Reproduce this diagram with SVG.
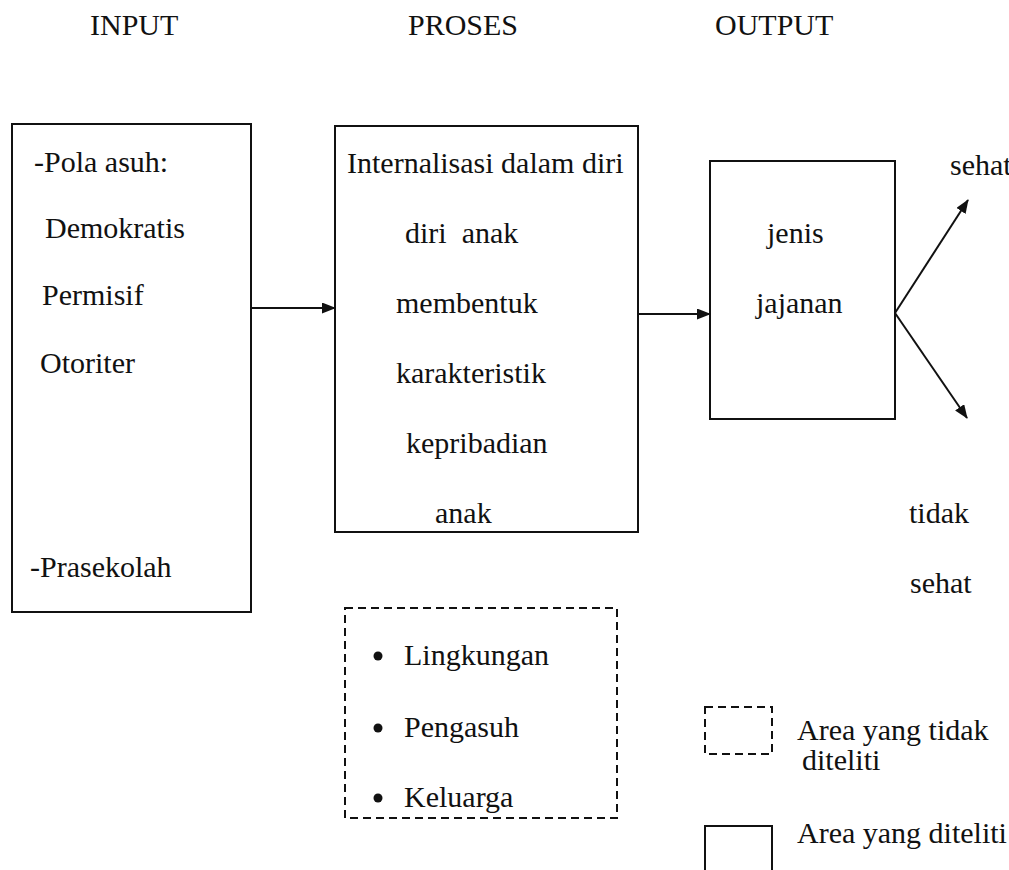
<svg xmlns="http://www.w3.org/2000/svg" width="1009" height="870" viewBox="0 0 1009 870">
<defs>
<style>
text{font-family:"Liberation Serif","Times New Roman",serif;font-size:30px;fill:#111}
.box{fill:none;stroke:#111;stroke-width:2}
.dash{fill:none;stroke:#111;stroke-width:2;stroke-dasharray:8,5}
.conn{stroke:#111;stroke-width:2;fill:none}
</style>
<marker id="ah" viewBox="0 0 14 11" refX="13" refY="5.5" markerWidth="14" markerHeight="11" markerUnits="userSpaceOnUse" orient="auto">
<path d="M0,0 L14,5.5 L0,11 Z" fill="#111"/>
</marker>
</defs>
<rect width="1009" height="870" fill="#fff"/>
<g id="headers">
<text x="90" y="35">INPUT</text>
<text x="408" y="35">PROSES</text>
<text x="715" y="35">OUTPUT</text>
</g>
<g id="input">
<rect class="box" x="12" y="124" width="239" height="488"/>
<text x="34" y="172">-Pola asuh:</text>
<text x="45" y="238">Demokratis</text>
<text x="42" y="305">Permisif</text>
<text x="40" y="373">Otoriter</text>
<text x="30" y="577">-Prasekolah</text>
</g>
<g id="proses">
<rect class="box" x="335" y="126" width="303" height="406"/>
<text x="347" y="173">Internalisasi dalam diri</text>
<text x="405" y="243" xml:space="preserve">diri  anak</text>
<text x="396" y="313">membentuk</text>
<text x="396" y="383">karakteristik</text>
<text x="406" y="453">kepribadian</text>
<text x="435" y="523">anak</text>
</g>
<g id="output">
<rect class="box" x="710" y="161" width="185" height="258"/>
<text x="767" y="243">jenis</text>
<text x="756" y="313">jajanan</text>
</g>
<g id="sehat">
<text x="950" y="175">sehat</text>
</g>
<g id="tidak-sehat">
<text x="909" y="523">tidak</text>
<text x="910" y="593">sehat</text>
</g>
<g id="faktor">
<rect class="dash" x="345" y="608" width="272" height="210"/>
<circle cx="378" cy="656" r="4.5" fill="#111"/>
<text x="404" y="665">Lingkungan</text>
<circle cx="378" cy="728" r="4.5" fill="#111"/>
<text x="404" y="737">Pengasuh</text>
<circle cx="378" cy="798" r="4.5" fill="#111"/>
<text x="404" y="807">Keluarga</text>
</g>
<g id="legend">
<rect class="dash" x="705" y="707" width="67" height="47"/>
<text x="797" y="740">Area yang tidak</text>
<text x="802" y="770">diteliti</text>
<rect class="box" x="705" y="826" width="67" height="60"/>
<text x="797" y="843">Area yang diteliti</text>
</g>
<g id="connectors">
<line class="conn" x1="251" y1="308" x2="335" y2="308" marker-end="url(#ah)"/>
<line class="conn" x1="638" y1="314" x2="710" y2="314" marker-end="url(#ah)"/>
<line class="conn" x1="895" y1="313" x2="968" y2="200" marker-end="url(#ah)"/>
<line class="conn" x1="895" y1="313" x2="967" y2="418" marker-end="url(#ah)"/>
</g>
</svg>
